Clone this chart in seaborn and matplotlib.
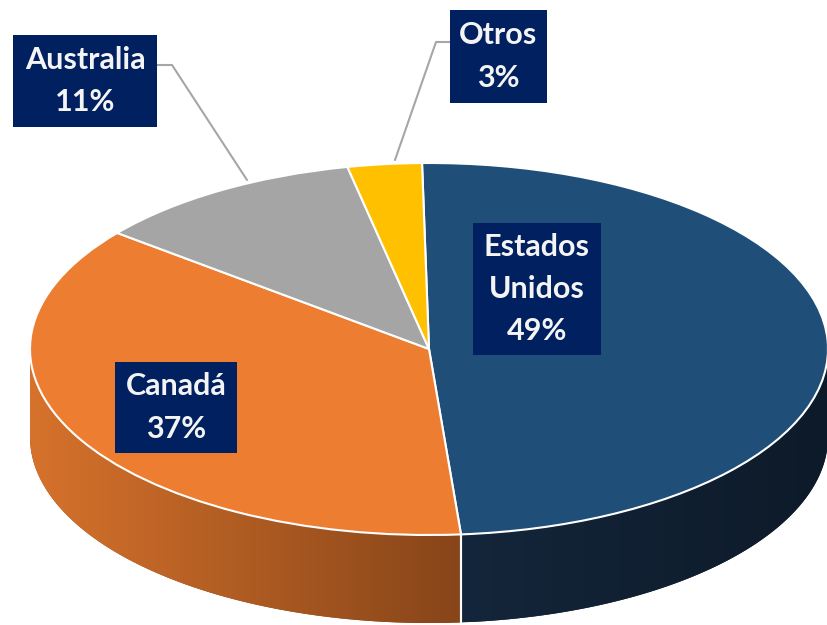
import numpy as np
import matplotlib
matplotlib.use("Agg")
import matplotlib.pyplot as plt
import seaborn as sns
from matplotlib.patches import Polygon, Rectangle
from matplotlib.colors import LinearSegmentedColormap

# ---------------- Datos ----------------
paises = ["Estados\nUnidos", "Canadá", "Australia", "Otros"]
porcentajes = [49, 37, 11, 3]

# ---------------- Estilo ----------------
colores_top = ["#1F4E79", "#ED7D31", "#A5A5A5", "#FFC000"]
colores_lado = [("#14263B", "#0D1A29"), ("#D6722C", "#874519"),
                ("#8A8A8A", "#6E6E6E"), ("#C99700", "#A67C00")]
COLOR_CAJA = "#002060"
COLOR_GUIA = "#A6A6A6"

W, H = 828, 625
CX, CY, RX, RY = 429, 349, 399, 186   # elipse superior en pixeles
GROSOR = 88 / RY                      # altura del lateral en unidades de datos

# cajas de etiqueta (x0, y0, x1, y1) en pixeles desde arriba-izquierda
cajas = [(473, 223, 601, 355), (115, 362, 237, 453),
         (13, 35, 157, 127), (450, 10, 547, 103)]
# lineas guia (pixeles) para Australia y Otros
guias = {2: [(157, 65), (172, 65), (247, 180)],
         3: [(450, 42), (436, 42), (395, 160)]}


def px_a_datos(px, py):
    return (px - CX) / RX, (CY - py) / RY


def tramo_frontal(t1, t2):
    # parte del borde que mira al frente (180..360 grados)
    for k in range(-2, 3):
        a = max(t1, 180 + 360 * k)
        b = min(t2, 360 + 360 * k)
        if a < b:
            yield a - 360 * k, b - 360 * k


sns.set_theme(style="white")
plt.rcParams["font.family"] = ["Lato", "DejaVu Sans"]

fig = plt.figure(figsize=(W / 100, H / 100), dpi=100)
ax = fig.add_axes([0, 0, 1, 1])

wedges, _ = ax.pie(porcentajes, colors=colores_top, startangle=91, counterclock=False,
                   wedgeprops=dict(edgecolor="white", linewidth=1.5, zorder=5))

# -------- lateral 3D con degradado --------
for w, (c_ini, c_fin) in zip(wedges, colores_lado):
    cmap = LinearSegmentedColormap.from_list("lado", [c_ini, c_fin])
    for a, b in tramo_frontal(w.theta1, w.theta2):
        t = np.radians(np.linspace(a, b, 200))
        xs, ys = np.cos(t), np.sin(t)
        pts = np.vstack([np.column_stack([xs, ys]),
                         np.column_stack([xs[::-1], ys[::-1] - GROSOR])])
        poly = Polygon(pts, closed=True, facecolor=c_fin, edgecolor="none", zorder=2)
        ax.add_patch(poly)
        grad = np.linspace(0, 1, 256).reshape(1, -1)
        img = ax.imshow(grad, cmap=cmap, aspect="auto", zorder=2.5,
                        extent=(xs.min(), xs.max(), ys.min() - GROSOR, ys.max()))
        img.set_clip_path(poly)

# separaciones blancas del lateral
for w in wedges:
    for ang in (w.theta1, w.theta2):
        r = np.radians(ang)
        if np.sin(r) < -0.01:
            ax.plot([np.cos(r)] * 2, [np.sin(r), np.sin(r) - GROSOR],
                    color="white", lw=1.5, zorder=3)

# -------- etiquetas --------
for i, (nombre, valor) in enumerate(zip(paises, porcentajes)):
    x0, y0, x1, y1 = cajas[i]
    fig.add_artist(Rectangle((x0 / W, 1 - y1 / H), (x1 - x0) / W, (y1 - y0) / H,
                             transform=fig.transFigure, facecolor=COLOR_CAJA,
                             edgecolor="none", zorder=10))
    fig.text((x0 + x1) / 2 / W, 1 - (y0 + y1) / 2 / H, f"{nombre}\n{valor}%",
             ha="center", va="center", color="#F4F4F4", fontsize=22,
             fontweight="bold", linespacing=1.62, zorder=11)
    if i in guias:
        gx, gy = zip(*[px_a_datos(px, py) for px, py in guias[i]])
        ax.plot(gx, gy, color=COLOR_GUIA, lw=1.5, zorder=6)

ax.set_xlim(-CX / RX, (W - CX) / RX)
ax.set_ylim((CY - H) / RY, CY / RY)
ax.set_aspect("auto")
ax.axis("off")

fig.savefig("out.png", dpi=100, facecolor="white")
